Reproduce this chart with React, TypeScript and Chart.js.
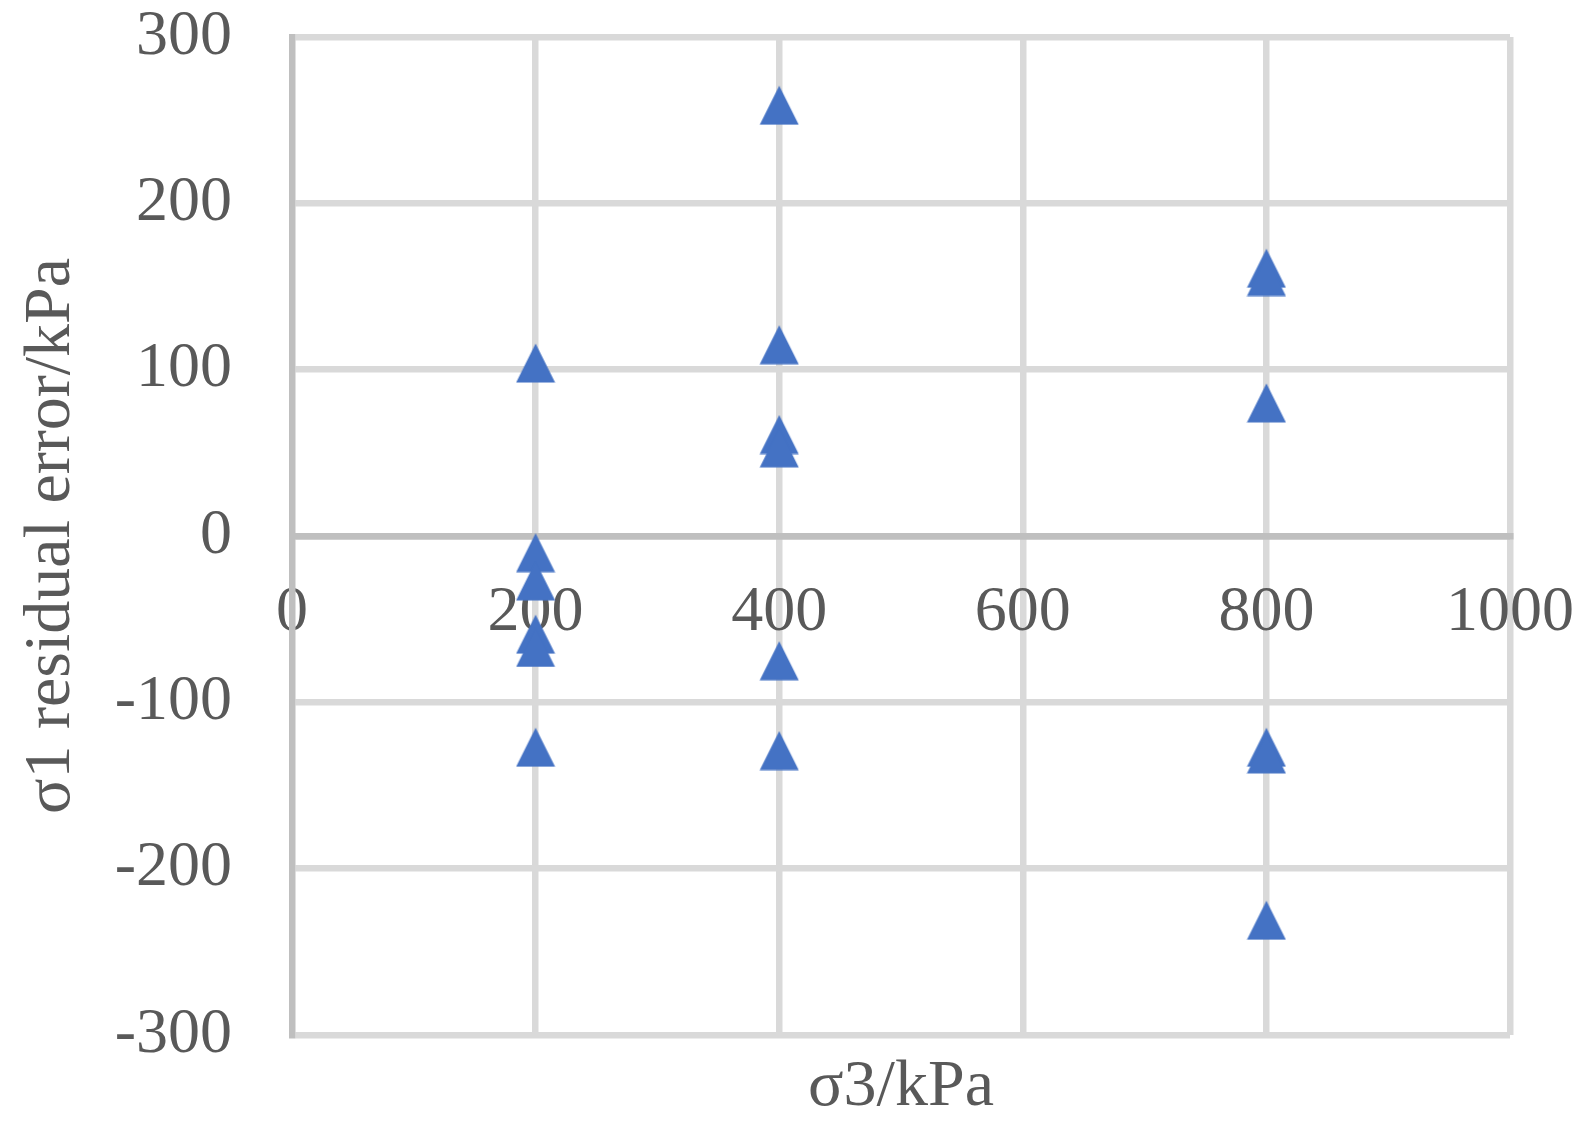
import React, { useEffect, useRef } from "react";
import { Chart, registerables } from "chart.js";

Chart.register(...registerables);

// σ3 (confining pressure) for each test, kPa
const SIGMA3_KPA = [200, 200, 200, 200, 200, 200, 400, 400, 400, 400, 400, 400, 800, 800, 800, 800, 800, 800];
// σ1 residual error for each test, kPa
const RESIDUAL_KPA = [104, -10, -27, -59, -67, -127, 259, 115, 61, 53, -75, -129, 161, 156, 80, -127, -131, -231];

const X_TITLE = "σ3/kPa";
const Y_TITLE = "σ1 residual error/kPa";
const X_MIN = 0;
const X_MAX = 1000;
const X_STEP = 200;
const Y_MIN = -300;
const Y_MAX = 300;
const Y_STEP = 100;

const FONT_FAMILY = "'Liberation Serif', 'Times New Roman', serif";
const TEXT_COLOR = "#595959";
const GRID_COLOR = "#d9d9d9";
const AXIS_COLOR = "#bfbfbf";
const MARKER_COLOR = "#4472C4";
const CLEAR = "rgba(0,0,0,0)";

function makeTriangle(): HTMLCanvasElement {
  const c = document.createElement("canvas");
  c.width = 40;
  c.height = 40;
  const g = c.getContext("2d")!;
  g.fillStyle = MARKER_COLOR;
  g.beginPath();
  g.moveTo(20, 0.5);
  g.lineTo(39.5, 39.5);
  g.lineTo(0.5, 39.5);
  g.closePath();
  g.fill();
  return c;
}

export default function App() {
  const ref = useRef<HTMLCanvasElement | null>(null);

  useEffect(() => {
    if (!ref.current) return;
    const tri = makeTriangle();
    const points = SIGMA3_KPA.map((x, i) => ({ x, y: RESIDUAL_KPA[i] }));
    const chart = new Chart(ref.current, {
      type: "scatter",
      data: {
        datasets: [
          {
            data: points,
            pointStyle: tri as any,
            pointRadius: 20,
            backgroundColor: MARKER_COLOR,
            borderColor: MARKER_COLOR,
            xAxisID: "x",
            yAxisID: "y",
          },
        ],
      },
      options: {
        animation: false,
        responsive: false,
        events: [],
        layout: { padding: { left: 0, top: 37, right: 85, bottom: 0 } },
        plugins: {
          legend: { display: false },
          tooltip: { enabled: false },
          title: { display: false },
        },
        scales: {
          x: {
            type: "linear",
            position: { y: 0 } as any,
            min: X_MIN,
            max: X_MAX,
            ticks: {
              stepSize: X_STEP,
              autoSkip: false,
              maxRotation: 0,
              padding: 5,
              color: TEXT_COLOR,
              font: { family: FONT_FAMILY, size: 64, lineHeight: 1 },
              callback: (v: any) => String(v),
            },
            grid: {
              drawTicks: true,
              tickLength: 40,
              tickColor: CLEAR,
              lineWidth: 6.5,
              color: (ctx: any) => (ctx.tick && ctx.tick.value === 0 ? CLEAR : GRID_COLOR),
            },
            border: { display: true, color: AXIS_COLOR, width: 6.5 },
            title: { display: false },
          },
          x2: {
            type: "linear",
            position: "bottom",
            min: X_MIN,
            max: X_MAX,
            ticks: { display: false },
            grid: { display: false, drawTicks: false },
            border: { display: false },
            title: {
              display: true,
              text: X_TITLE,
              color: TEXT_COLOR,
              font: { family: FONT_FAMILY, size: 66, lineHeight: 1 },
              padding: { top: 0, bottom: 13 },
            },
            afterFit: (scale: any) => {
              scale.height = 99;
            },
          },
          y: {
            type: "linear",
            position: "left",
            min: Y_MIN,
            max: Y_MAX,
            ticks: {
              stepSize: Y_STEP,
              autoSkip: false,
              padding: 5,
              color: TEXT_COLOR,
              font: { family: FONT_FAMILY, size: 64, lineHeight: 1 },
              callback: (v: any) => String(v),
            },
            grid: {
              drawTicks: true,
              tickLength: 55,
              tickColor: CLEAR,
              lineWidth: 6.5,
              color: (ctx: any) => (ctx.tick && ctx.tick.value === 0 ? AXIS_COLOR : GRID_COLOR),
            },
            border: { display: true, color: AXIS_COLOR, width: 6.5 },
            title: {
              display: true,
              text: Y_TITLE,
              color: TEXT_COLOR,
              font: { family: FONT_FAMILY, size: 66, lineHeight: 1 },
              padding: { top: 19, bottom: 0 },
            },
            afterFit: (scale: any) => {
              scale.width = 292;
            },
          },
        },
      },
    });
    return () => chart.destroy();
  }, []);

  return (
    <div
      style={{
        position: "fixed",
        left: 0,
        top: 0,
        width: 1595,
        height: 1134,
        background: "#ffffff",
      }}
    >
      <canvas ref={ref} width={1595} height={1134} style={{ display: "block", width: 1595, height: 1134 }} />
    </div>
  );
}
